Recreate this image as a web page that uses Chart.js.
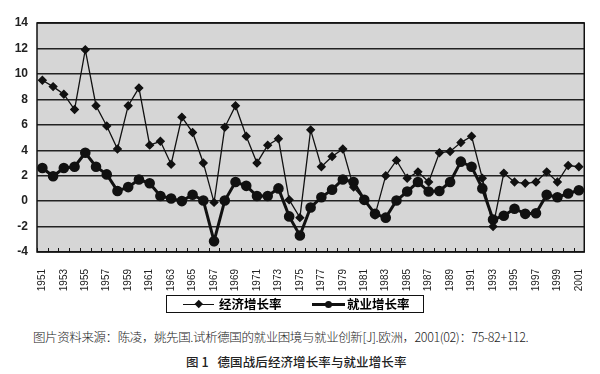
<!DOCTYPE html>
<html>
<head>
<meta charset="utf-8">
<script src="https://cdn.jsdelivr.net/npm/chart.js@4"></script>
<style>
  html, body { margin: 0; padding: 0; background: #fff; }
  #wrap { position: relative; width: 600px; height: 374px; background: #fff; overflow: hidden; }
  #chartBox { position: absolute; left: 0; top: 0; width: 600px; height: 295px; }
  #legend { position: absolute; left: 166px; top: 295px; width: 256px; height: 16px; border: 1.5px solid #111; background: #fff; }
  .lg { position: absolute; top: 0; height: 16px; }
  .lg .ln { position: absolute; background: #111; }
  .lg .tx { position: absolute; top: -2px; font: bold 12.5px "Noto Sans CJK SC"; color: #000; white-space: nowrap; }
  .cap { position: absolute; color: #222; white-space: nowrap; }
</style>
</head>
<body>
<div id="wrap">
  <div id="chartBox"><canvas id="chart" width="600" height="295"></canvas></div>
  <div id="legend">
    <div class="lg" style="left:16px;width:120px">
      <div class="ln" style="left:0;top:7.5px;width:31px;height:1.3px"></div>
      <div style="position:absolute;left:13px;top:5px;width:5.5px;height:5.5px;background:#111;transform:rotate(45deg)"></div>
      <div class="tx" style="left:36px">经济增长率</div>
    </div>
    <div class="lg" style="left:145px;width:110px">
      <div class="ln" style="left:0;top:7px;width:33px;height:3px"></div>
      <div style="position:absolute;left:12.5px;top:5px;width:7px;height:7px;border-radius:50%;background:#111"></div>
      <div class="tx" style="left:35px">就业增长率</div>
    </div>
  </div>
  <div class="cap" style="top:327px;left:33px;font:12.5px 'Noto Sans CJK SC';font-weight:300;letter-spacing:-0.4px">图片资料来源：陈凌，姚先国.试析德国的就业困境与就业创新[J].欧洲，2001(02)：75-82+112.</div>
  <div class="cap" style="top:352px;left:186px;font:12.5px 'Noto Sans CJK SC';font-weight:500;letter-spacing:0.1px">图 1&nbsp;&nbsp;&nbsp;德国战后经济增长率与就业增长率</div>
</div>
<script>
// 年份与两组增长率（%）
const years = ['1951','1952','1953','1954','1955','1956','1957','1958','1959','1960',
  '1961','1962','1963','1964','1965','1966','1967','1968','1969','1970',
  '1971','1972','1973','1974','1975','1976','1977','1978','1979','1980',
  '1981','1982','1983','1984','1985','1986','1987','1988','1989','1990',
  '1991','1992','1993','1994','1995','1996','1997','1998','1999','2000','2001'];

const economicGrowth = [9.5, 9.0, 8.4, 7.2, 11.9, 7.5, 5.9, 4.1, 7.5, 8.9,
  4.4, 4.7, 2.9, 6.6, 5.4, 3.0, -0.1, 5.8, 7.5, 5.1,
  3.0, 4.4, 4.9, 0.1, -1.3, 5.6, 2.7, 3.5, 4.1, 1.1,
  0.1, -1.1, 2.0, 3.2, 1.8, 2.3, 1.5, 3.8, 3.9, 4.6,
  5.1, 1.8, -2.0, 2.2, 1.5, 1.4, 1.5, 2.3, 1.5, 2.8, 2.7];

const employmentGrowth = [2.6, 1.95, 2.6, 2.7, 3.8, 2.7, 2.1, 0.8, 1.1, 1.7,
  1.4, 0.4, 0.2, 0.0, 0.5, 0.05, -3.15, 0.05, 1.5, 1.2,
  0.4, 0.4, 1.0, -1.2, -2.7, -0.5, 0.3, 0.9, 1.7, 1.5,
  0.1, -1.0, -1.3, 0.05, 0.75, 1.5, 0.75, 0.8, 1.5, 3.1,
  2.7, 1.0, -1.45, -1.15, -0.6, -1.0, -0.95, 0.5, 0.3, 0.6, 0.85];

const yMin = -4, yMax = 14, yStep = 2;

// 绘图区灰底、外框和底部朝内的小刻度
const plotFrame = {
  id: 'plotFrame',
  beforeDraw(chart) {
    const { ctx, chartArea: a } = chart;
    ctx.save();
    ctx.fillStyle = '#d6d6d6';
    ctx.fillRect(a.left, a.top, a.width, a.height);
    ctx.restore();
  },
  afterDraw(chart) {
    const { ctx, chartArea: a } = chart;
    const x = chart.scales.x;
    ctx.save();
    ctx.strokeStyle = '#111';
    ctx.lineWidth = 1;
    for (let i = 0; i <= years.length; i++) {
      const px = Math.round(x.getPixelForValue(i - 0.5)) + 0.5;
      ctx.beginPath();
      ctx.moveTo(px, a.bottom);
      ctx.lineTo(px, a.bottom - 4);
      ctx.stroke();
    }
    ctx.lineWidth = 1.5;
    ctx.strokeRect(a.left, a.top, a.width, a.height);
    ctx.restore();
  }
};

const ctx = document.getElementById('chart').getContext('2d');
new Chart(ctx, {
  type: 'line',
  data: {
    labels: years,
    datasets: [{
      label: '经济增长率',
      data: economicGrowth,
      borderColor: '#111',
      backgroundColor: '#111',
      borderWidth: 1.3,
      pointStyle: 'rectRot',
      pointRadius: 3.8,
      tension: 0
    }, {
      label: '就业增长率',
      data: employmentGrowth,
      borderColor: '#111',
      backgroundColor: '#111',
      borderWidth: 3,
      pointStyle: 'circle',
      pointRadius: 3.8,
      tension: 0
    }]
  },
  options: {
    responsive: false,
    animation: false,
    devicePixelRatio: 1,
    layout: { padding: { left: 0, right: 11, top: 23, bottom: 0 } },
    plugins: { legend: { display: false }, tooltip: { enabled: false } },
    scales: {
      x: {
        offset: true,
        grid: { display: false },
        border: { display: false },
        afterFit(s) { s.height = 43; },
        ticks: {
          autoSkip: false,
          maxRotation: 90,
          minRotation: 90,
          padding: 9,
          color: '#222',
          font: { family: 'Liberation Sans', size: 10 },
          callback(v, i) { return i % 2 === 0 ? years[i] : ''; }
        }
      },
      y: {
        min: yMin,
        max: yMax,
        afterFit(s) { s.width = 37; },
        ticks: {
          stepSize: yStep,
          padding: 9,
          color: '#222',
          font: { family: 'Liberation Sans', size: 12, weight: 'bold' }
        },
        grid: { color: '#222', lineWidth: 1.4, drawTicks: false },
        border: { display: false }
      }
    }
  },
  plugins: [plotFrame]
});
</script>
</body>
</html>
